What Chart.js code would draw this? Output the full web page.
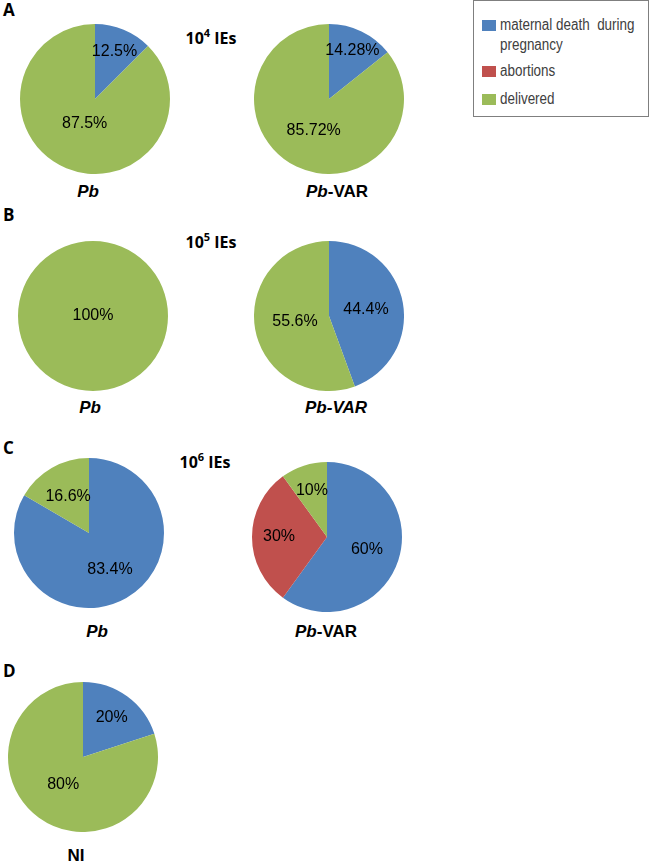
<!DOCTYPE html>
<html>
<head>
<meta charset="utf-8">
<script src="https://cdn.jsdelivr.net/npm/chart.js@4/dist/chart.umd.min.js"></script>
<style>
    body { margin: 0; background: #fff; }
    #wrap { position: relative; width: 650px; height: 863px; overflow: hidden; font-family: 'Liberation Sans', Arial, sans-serif; }
    .pie { position: absolute; width: 150px; height: 150px; }
    .txt { position: absolute; transform: translate(-50%, -50%); white-space: nowrap; color: #000; }
    .panel { font-family: 'Open Sans', sans-serif; font-weight: 700; font-size: 17px; transform: none; }
    .dose { font-family: 'Open Sans', sans-serif; font-weight: 700; font-size: 16px; }
    .dose sup { font-size: 11px; }
    .grp { font-weight: 700; font-size: 17px; }
    #legend { position: absolute; left: 473px; top: 0; width: 176px; height: 117px; border: 1px solid #7f7f7f; box-sizing: border-box; }
    .item { position: absolute; left: 8px; font-size: 16px; color: #404040; line-height: 20px; white-space: nowrap; }
    .item span.box { position: absolute; left: 0; top: 5px; width: 14px; height: 11px; }
    .item span.lbl { display: block; margin-left: 18px; transform: scaleX(0.84); transform-origin: left center; }
</style>
</head>
<body>
<div id="wrap">
    <div id="legend"></div>

    <div class="txt panel" style="left:3px; top:-2px;">A</div>
    <div class="txt dose" style="left:211px; top:37px;">10<sup>4</sup> IEs</div>
    <canvas id="pieA1" class="pie" style="left:20px; top:24px;"></canvas>
    <canvas id="pieA2" class="pie" style="left:254px; top:24px;"></canvas>
    <div class="txt grp" style="left:88px; top:192px;"><i>Pb</i></div>
    <div class="txt grp" style="left:337px; top:192px;"><i>Pb</i>-VAR</div>

    <div class="txt panel" style="left:3px; top:203px;">B</div>
    <div class="txt dose" style="left:211px; top:241px;">10<sup>5</sup> IEs</div>
    <canvas id="pieB1" class="pie" style="left:18px; top:241px;"></canvas>
    <canvas id="pieB2" class="pie" style="left:254px; top:241px;"></canvas>
    <div class="txt grp" style="left:90px; top:408px;"><i>Pb</i></div>
    <div class="txt grp" style="left:336px; top:408px;"><i>Pb-VAR</i></div>

    <div class="txt panel" style="left:3px; top:436px;">C</div>
    <div class="txt dose" style="left:205px; top:461px;">10<sup>6</sup> IEs</div>
    <canvas id="pieC1" class="pie" style="left:14px; top:458px;"></canvas>
    <canvas id="pieC2" class="pie" style="left:252px; top:462px;"></canvas>
    <div class="txt grp" style="left:97px; top:632px;"><i>Pb</i></div>
    <div class="txt grp" style="left:326px; top:632px;"><i>Pb</i>-VAR</div>

    <div class="txt panel" style="left:3px; top:659px;">D</div>
    <canvas id="pieD1" class="pie" style="left:8px; top:682px;"></canvas>
    <div class="txt grp" style="left:76px; top:856px;">NI</div>
</div>

<script>
    // 범주 / 색상
    const categories = ['maternal death  during pregnancy', 'abortions', 'delivered'];
    const colors = ['#4F81BD', '#C0504D', '#9BBB59'];

    // 각 파이 값 (%)
    const pbE4 = [12.5, 0, 87.5];
    const varE4 = [14.28, 0, 85.72];
    const pbE5 = [0, 0, 100];
    const varE5 = [44.4, 0, 55.6];
    const pbE6 = [83.4, 0, 16.6];
    const varE6 = [60, 30, 10];
    const niValues = [20, 0, 80];

    // 라벨 위치 (반지름 비율)
    const labelPos = {
        pieA1: [0.68, 0, 0.36],
        pieA2: [0.72, 0, 0.47],
        pieB1: [0, 0, 0],
        pieB2: [0.5, 0, 0.46],
        pieC1: [0.56, 0, 0.56],
        pieC2: [0.56, 0.64, 0.65],
        pieD1: [0.65, 0, 0.45]
    };

    // 범례
    const legend = document.getElementById('legend');
    const tops = [14, 60, 88];
    categories.forEach(function (name, i) {
        const el = document.createElement('div');
        el.className = 'item';
        el.style.top = tops[i] + 'px';
        el.innerHTML = '<span class="box" style="background:' + colors[i] + '"></span>' +
            '<span class="lbl">' + (i === 0 ? 'maternal death&nbsp; during<br>pregnancy' : name) + '</span>';
        legend.appendChild(el);
    });

    // 슬라이스 안쪽 % 라벨
    const sliceLabels = {
        id: 'sliceLabels',
        afterDatasetsDraw: function (chart) {
            const ctx = chart.ctx;
            const meta = chart.getDatasetMeta(0);
            const data = chart.data.datasets[0].data;
            const pos = labelPos[chart.canvas.id];
            ctx.save();
            ctx.font = '16px "Liberation Sans", Arial, sans-serif';
            ctx.fillStyle = '#000';
            ctx.textAlign = 'center';
            ctx.textBaseline = 'middle';
            meta.data.forEach(function (arc, i) {
                if (!data[i]) return;
                const p = arc.getProps(['x', 'y', 'startAngle', 'endAngle', 'outerRadius'], true);
                const mid = (p.startAngle + p.endAngle) / 2;
                const r = p.outerRadius * pos[i];
                ctx.fillText(data[i] + '%', p.x + Math.cos(mid) * r, p.y + Math.sin(mid) * r);
            });
            ctx.restore();
        }
    };

    function makePie(id, values) {
        new Chart(document.getElementById(id), {
            type: 'pie',
            plugins: [sliceLabels],
            data: {
                labels: categories,
                datasets: [{
                    data: values,
                    backgroundColor: colors,
                    borderWidth: 0
                }]
            },
            options: {
                responsive: false,
                animation: false,
                layout: { padding: 0 },
                plugins: {
                    legend: { display: false },
                    tooltip: { enabled: false }
                }
            }
        });
    }

    makePie('pieA1', pbE4);
    makePie('pieA2', varE4);
    makePie('pieB1', pbE5);
    makePie('pieB2', varE5);
    makePie('pieC1', pbE6);
    makePie('pieC2', varE6);
    makePie('pieD1', niValues);
</script>
</body>
</html>
